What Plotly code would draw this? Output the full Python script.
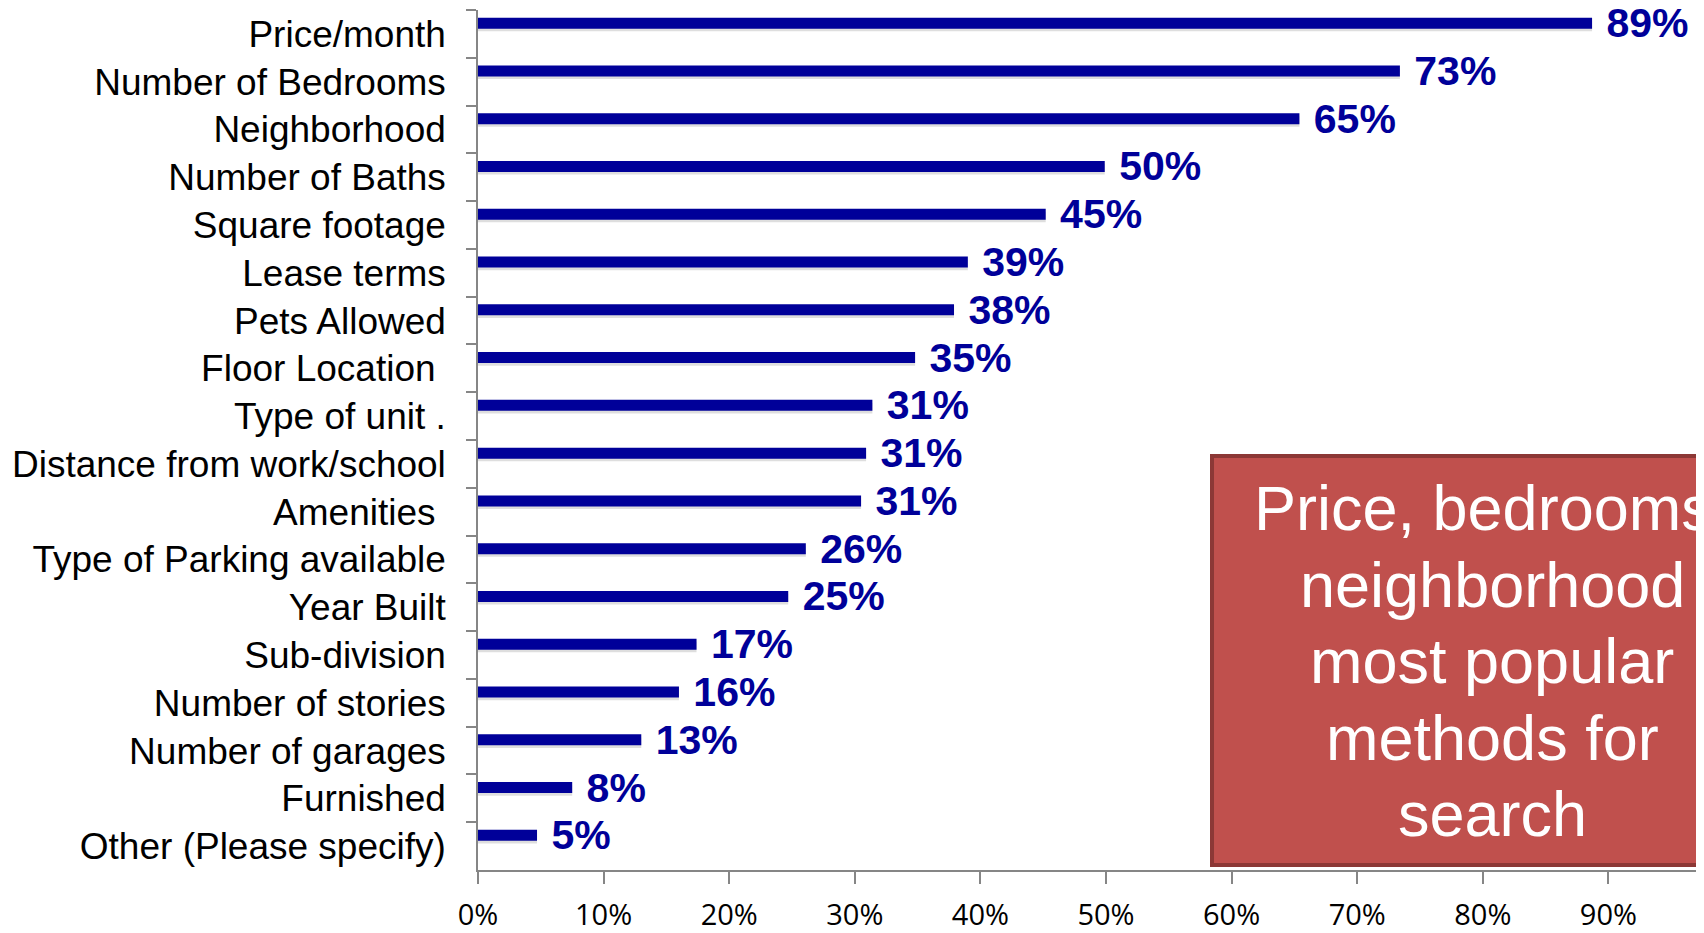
import plotly.graph_objects as go

categories = [
    "Price/month", "Number of Bedrooms", "Neighborhood", "Number of Baths",
    "Square footage", "Lease terms", "Pets Allowed", "Floor Location\u00a0",
    "Type of unit .", "Distance from work/school", "Amenities\u00a0",
    "Type of Parking available", "Year Built", "Sub-division",
    "Number of stories", "Number of garages", "Furnished", "Other (Please specify)",
]
values_pct = [88.7, 73.4, 65.4, 49.9, 45.2, 39.0, 37.9, 34.8, 31.4, 30.9, 30.5,
              26.1, 24.7, 17.4, 16.0, 13.0, 7.5, 4.7]
value_labels = ["89%", "73%", "65%", "50%", "45%", "39%", "38%", "35%", "31%", "31%",
                "31%", "26%", "25%", "17%", "16%", "13%", "8%", "5%"]
x_tick_vals = [0.0, 0.1, 0.2, 0.3, 0.4, 0.5, 0.6, 0.7, 0.8, 0.9]
x_tick_text = ["0%", "10%", "20%", "30%", "40%", "50%", "60%", "70%", "80%", "90%"]
callout_lines = ["Price, bedrooms,", "neighborhood", "most popular", "methods for", "search"]

# page body has an 8px margin; figure sized so the page does not scroll
OFF = 8
W, H = 1704 - 2 * OFF, 933 - 2 * OFF
# plot area in screen pixels
PX_LEFT, PX_TOP, PX_BOTTOM = 478, 10, 870
PX_PER_UNIT = 1256.0  # pixels for 100%
ML = PX_LEFT - OFF
MT = PX_TOP - OFF
MB = H - (PX_BOTTOM - OFF)
MR = 0
plot_w = W - ML - MR
plot_h = H - MT - MB
XMAX = plot_w / PX_PER_UNIT


def sx(px):
    """screen x pixel -> paper x"""
    return (px - OFF - ML) / plot_w


def sy(py):
    """screen y pixel -> paper y"""
    return (H - MB - (py - OFF)) / plot_h


AX_GRAY = "#868686"
BAR_BLUE = "#000099"
SANS = "Liberation Sans"

fig = go.Figure()
fig.add_trace(go.Bar(
    x=[v / 100 for v in values_pct], y=categories, orientation="h",
    width=0.22, offset=-0.335 + 0.06,
    marker=dict(color="rgba(0,0,0,0.13)", line=dict(width=0)),
    hoverinfo="skip",
))
fig.add_trace(go.Bar(
    x=[v / 100 for v in values_pct], y=categories, orientation="h",
    width=0.23, offset=-0.34,
    marker=dict(color=BAR_BLUE, line=dict(width=0)),
    text=["\u00a0" + t for t in value_labels],
    textposition="outside",
    constraintext="none",
    cliponaxis=False,
    textfont=dict(family=SANS, size=41, color=BAR_BLUE, weight="bold"),
))

fig.update_layout(
    width=W, height=H, autosize=False,
    margin=dict(l=ML, r=MR, t=MT, b=MB, pad=0),
    plot_bgcolor="white", paper_bgcolor="white",
    showlegend=False, barmode="overlay",
    xaxis=dict(
        range=[0, XMAX], tickvals=x_tick_vals, ticktext=x_tick_text,
        automargin=False,
        ticks="outside", ticklen=12, tickwidth=1.5, tickcolor=AX_GRAY,
        showline=True, linecolor=AX_GRAY, linewidth=1.5,
        showgrid=False, zeroline=False,
        tickfont=dict(family="Open Sans", size=29, color="black"),
        ticklabelstandoff=6,
    ),
    yaxis=dict(
        type="category", categoryorder="array", categoryarray=categories,
        autorange="reversed", automargin=False,
        ticks="outside", ticklen=10, tickwidth=1.5, tickcolor=AX_GRAY,
        tickson="boundaries",
        showline=True, linecolor=AX_GRAY, linewidth=1.5,
        showgrid=False, zeroline=False,
        tickfont=dict(family=SANS, size=37, color="black"),
        ticklabelstandoff=23,
    ),
)

# 100% tick label partially visible at the right edge
fig.add_annotation(
    xref="paper", yref="paper", x=1.0 / XMAX, y=0, yshift=-18,
    text="100%", showarrow=False, xanchor="center", yanchor="top",
    font=dict(family="Open Sans", size=29, color="black"),
)

# callout box
fig.add_shape(
    type="rect", xref="paper", yref="paper",
    x0=sx(1212), x1=sx(1776),
    y0=sy(865), y1=sy(456),
    fillcolor="#C0504D", line=dict(color="#8C3836", width=4), layer="above",
)
baselines = [530, 606.5, 683, 759.5, 836]
for line, bl in zip(callout_lines, baselines):
    fig.add_annotation(
        xref="paper", yref="paper", x=sx(1492), y=sy(bl - 22),
        text=line, showarrow=False, xanchor="center", yanchor="middle",
        font=dict(family=SANS, size=63, color="white"),
    )

fig.write_html("out.html")
